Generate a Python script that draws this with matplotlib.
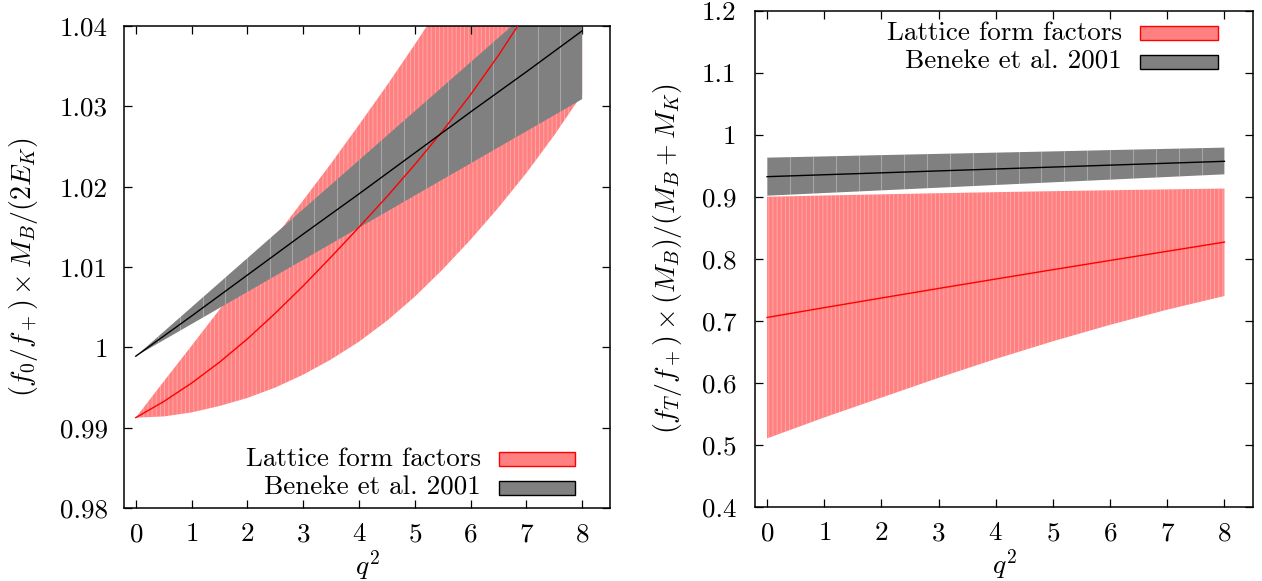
import numpy as np
import matplotlib
matplotlib.use('Agg')
import matplotlib.pyplot as plt
from matplotlib.patches import Rectangle
from matplotlib.ticker import FormatStrFormatter

plt.rcParams['font.family'] = 'serif'
plt.rcParams['font.serif'] = ['cmr10']
plt.rcParams['mathtext.fontset'] = 'cm'
plt.rcParams['axes.formatter.use_mathtext'] = True
plt.rcParams['hatch.linewidth'] = 0.6

FS = 19.5
LABEL_FS = 20
RED_FILL = '#ff8080'
GRAY_FILL = '#808080'

# q^2 grids
q2 = [0, 1, 2, 3, 4, 5, 6, 7, 8]
q2_half = [0, 0.5, 1, 1.5, 2, 2.5, 3, 3.5, 4, 4.5, 5, 5.5, 6, 6.5, 7, 7.5, 8]

# left panel: (f0/f+) x MB/(2EK)
f0_lat_mid = [0.99125, 0.99325, 0.99555, 0.99815, 1.00105, 1.00425, 1.00765, 1.01125, 1.01495,
              1.01875, 1.02275, 1.02695, 1.03145, 1.03635, 1.04165, 1.04725, 1.05305]
f0_lat_lo = [0.99125, 0.9914, 0.9919, 0.9927, 0.9937, 0.9950, 0.9966, 0.9985, 1.0007,
             1.0033, 1.0063, 1.0097, 1.0134, 1.0174, 1.0217, 1.0264, 1.0315]
f0_lat_hi = [0.99125, 0.99575, 1.0002, 1.0047, 1.0092, 1.01375, 1.0183, 1.0229, 1.0277,
             1.0326, 1.0377, 1.0430, 1.0485, 1.0542, 1.0600, 1.0660, 1.0720]
f0_ben_mid = [0.9989, 1.0039, 1.0090, 1.0141, 1.0191, 1.0242, 1.0293, 1.0343, 1.0394]
f0_ben_hi = [0.9989, 1.0050, 1.0111, 1.0172, 1.0233, 1.0294, 1.0355, 1.0416, 1.0477]
f0_ben_lo = [0.9989, 1.0029, 1.0069, 1.0109, 1.0149, 1.0189, 1.0229, 1.0269, 1.0309]

# right panel: (fT/f+) x MB/(MB+MK)
fT_lat_mid = [0.7054, 0.7212, 0.7368, 0.7522, 0.7674, 0.7825, 0.7974, 0.8122, 0.8270]
fT_lat_hi = [0.9002, 0.9022, 0.9041, 0.9059, 0.9076, 0.9092, 0.9107, 0.9121, 0.9134]
fT_lat_lo = [0.5102, 0.5440, 0.5760, 0.6080, 0.6385, 0.6670, 0.6935, 0.7180, 0.7400]
fT_ben_mid = [0.9326, 0.9357, 0.9388, 0.9419, 0.9450, 0.9481, 0.9512, 0.9543, 0.9574]
fT_ben_hi = [0.9633, 0.9653, 0.9674, 0.9694, 0.9714, 0.9734, 0.9755, 0.9775, 0.9795]
fT_ben_lo = [0.9019, 0.9062, 0.9105, 0.9148, 0.9192, 0.9235, 0.9278, 0.9321, 0.9364]

labels = ['Lattice form factors', 'Beneke et al. 2001']
x_ticks = [0, 1, 2, 3, 4, 5, 6, 7, 8]
y_ticks_left = [0.98, 0.99, 1.00, 1.01, 1.02, 1.03, 1.04]
y_ticks_right = [0.4, 0.5, 0.6, 0.7, 0.8, 0.9, 1.0, 1.1, 1.2]


def draw_panel(ax, q_lat, lat_lo, lat_mid, lat_hi, ben_lo, ben_mid, ben_hi):
    # lattice band with thin light seams like the original renderer
    ax.fill_between(q_lat, lat_lo, lat_hi, facecolor=RED_FILL, edgecolor='none', lw=0, zorder=1)
    ax.fill_between(q_lat, lat_lo, lat_hi, facecolor='none', edgecolor=(1, 1, 1, 0.35),
                    hatch='||||', lw=0, zorder=1.5)
    gb = ax.fill_between(q2, ben_lo, ben_hi, facecolor=GRAY_FILL, edgecolor='none', lw=0, zorder=2)
    seams = ax.vlines(np.arange(0, 8.01, 0.4), 0, 2, colors=(1, 1, 1, 0.3), lw=0.8, zorder=2.5)
    seams.set_clip_path(gb.get_paths()[0], transform=ax.transData)
    ax.plot(q_lat, lat_mid, color='#ff0000', lw=1.0, zorder=4)
    ax.plot(q2, ben_mid, color='black', lw=1.0, zorder=4)


def style_axes(ax, yticks, ypad):
    ax.set_xlim(-0.21, 8.5)
    ax.set_xticks(x_ticks)
    ax.set_yticks(yticks)
    ax.yaxis.set_major_formatter(FormatStrFormatter('%g'))
    ax.tick_params(direction='in', length=5.5, width=0.9, top=True, right=True,
                   labelsize=FS)
    ax.tick_params(axis='x', pad=10.5)
    ax.tick_params(axis='y', pad=ypad)
    for s in ax.spines.values():
        s.set_linewidth(1.1)
    ax.set_xlabel(r'$q^2$', fontsize=LABEL_FS)
    ax.xaxis.set_label_coords(0.5, -0.083)


def key(ax, xtext, xb0, xb1, yb0, h, face, edge, text):
    ax.add_patch(Rectangle((xb0, yb0), xb1 - xb0, h, transform=ax.transAxes,
                           facecolor=face, edgecolor=edge, lw=1.0, zorder=6))
    ax.text(xtext, yb0 + h / 2, text, transform=ax.transAxes, ha='right',
            va='center', fontsize=FS, zorder=6)


fig = plt.figure(figsize=(12.62, 5.81), dpi=100)
ax1 = fig.add_axes([0.0983, 0.1256, 0.3851, 0.8296])
ax2 = fig.add_axes([0.5983, 0.1279, 0.3946, 0.8532])

draw_panel(ax1, q2_half, f0_lat_lo, f0_lat_mid, f0_lat_hi, f0_ben_lo, f0_ben_mid, f0_ben_hi)
style_axes(ax1, y_ticks_left, 11.5)
ax1.set_ylim(0.98, 1.04)
ax1.set_ylabel(r'$(f_0/f_+)\times M_B/(2E_K)$', fontsize=LABEL_FS)
ax1.yaxis.set_label_coords(-0.173, 0.5)
key(ax1, 0.7346, 0.7706, 0.9274, 0.0871, 0.0297, RED_FILL, '#ff0000', labels[0])
key(ax1, 0.7346, 0.7706, 0.9274, 0.0270, 0.0290, GRAY_FILL, 'black', labels[1])

draw_panel(ax2, q2, fT_lat_lo, fT_lat_mid, fT_lat_hi, fT_ben_lo, fT_ben_mid, fT_ben_hi)
style_axes(ax2, y_ticks_right, 13.5)
ax2.set_ylim(0.4, 1.2)
ax2.set_ylabel(r'$(f_T/f_+)\times (M_B)/(M_B+M_K)$', fontsize=LABEL_FS)
ax2.yaxis.set_label_coords(-0.143, 0.5)
key(ax2, 0.737, 0.7731, 0.9291, 0.9415, 0.0282, RED_FILL, '#ff0000', labels[0])
key(ax2, 0.737, 0.7731, 0.9291, 0.8824, 0.0289, GRAY_FILL, 'black', labels[1])

fig.savefig('out.png', dpi=100)
